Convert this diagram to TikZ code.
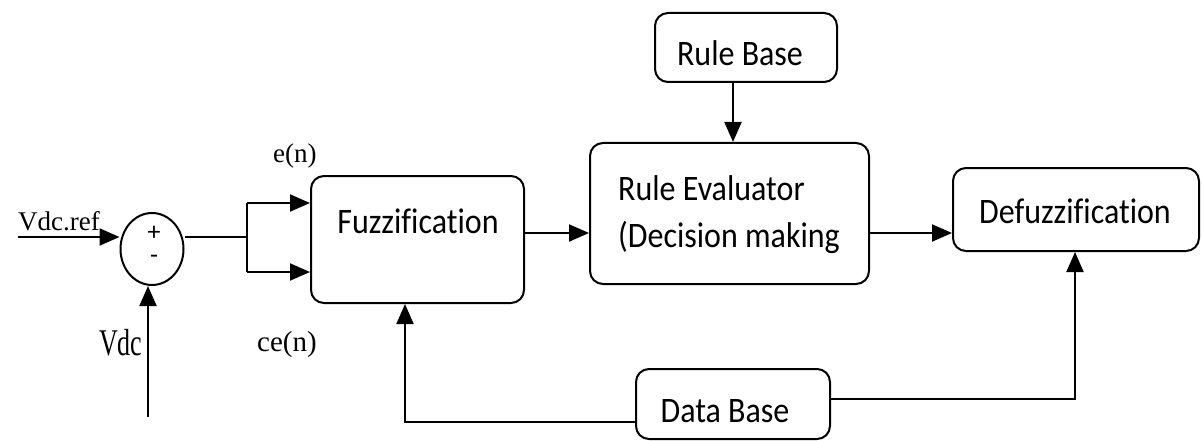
\documentclass[tikz,border=0pt]{standalone}
\usepackage{fontspec}
\setmainfont{Liberation Serif}
\newfontfamily\calib[Ligatures=NoCommon]{Carlito}
\usetikzlibrary{arrows.meta,shapes.geometric}

% block labels are set a little taller than the face's natural shape
\newcommand{\blocktext}[1]{\scalebox{1}[1.12]{#1}}

\tikzset{
  wire/.style={line width=2pt},
  arr/.style={wire,-{Triangle[length=20pt,width=17pt]}},
  block/.style={draw,line width=2pt,rounded corners=13pt,inner sep=0pt},
  blocklabel/.style={anchor=base,inner sep=0pt,font=\calib\fontsize{32}{36}\selectfont},
  signal/.style={anchor=base west,inner sep=0pt,font=\fontsize{27}{30}\selectfont},
  sign/.style={inner sep=0pt,align=center,font=\calib\fontsize{26}{23}\selectfont},
}

\begin{document}
\begin{tikzpicture}[x=1pt,y=-1pt]
\useasboundingbox (0,0) rectangle (1202,441);

% summing junction with its signs stacked inside
\node[draw,ellipse,line width=2pt,minimum width=63pt,minimum height=72pt,inner sep=0pt] (sum) at (152,249) {};
\node[sign] (signs) at (154,245) {+\\-};

% blocks
\node[block,minimum width=213pt,minimum height=127pt] (fuz) at (417.5,239.5) {};
\node[block,minimum width=279pt,minimum height=141pt] (rev) at (729.5,213.5) {};
\node[block,minimum width=182pt,minimum height=69pt] (rb) at (746,47.5) {};
\node[block,minimum width=246pt,minimum height=83pt] (def) at (1076,209.5) {};
\node[block,minimum width=194pt,minimum height=70pt] (db) at (733,404) {};

% block captions
\node[blocklabel] (fuzt) at (418,233) {\blocktext{Fuzzification}};
\node[blocklabel,anchor=base west] (revt1) at (618,200) {\blocktext{Rule Evaluator}};
\node[blocklabel,anchor=base west] (revt2) at (618,247) {\blocktext{(Decision making}};
\node[blocklabel] (rbt) at (740,66) {\blocktext{Rule Base}};
\node[blocklabel] (deft) at (1075,223) {\blocktext{Defuzzification}};
\node[blocklabel] (dbt) at (725,422) {\blocktext{Data Base}};

% signal names
\node[signal] (lref) at (18,230) {Vdc.ref};
\node[signal,font=\fontsize{26}{30}\selectfont] (lvdc) at (99,355) {\scalebox{1}[1.45]{Vdc}};
\node[signal] (len) at (273,163) {e(n)};
\node[signal,font=\fontsize{29}{32}\selectfont] (lcen) at (257,351) {ce(n)};

% routing points
\coordinate (refin) at (18,237);
\coordinate (vdcin) at (148,417);
\coordinate (split) at (247,237);
\coordinate (etop) at (247,203);
\coordinate (ebot) at (247,272);
\coordinate (fwd) at (0,233);
\coordinate (rbcol) at (733,0);
\coordinate (dbl) at (405,422);
\coordinate (dbr) at (1075,399);

% connectors
\draw[arr] (refin) -- (refin -| sum.west);
\draw[arr] (vdcin) -- (vdcin |- sum.south);
\draw[wire] (split -| sum.east) -- (split);
\draw[wire] (etop) -- (ebot);
\draw[arr] (etop) -- (etop -| fuz.west);
\draw[arr] (ebot) -- (ebot -| fuz.west);
\draw[arr] (fuz.east |- fwd) -- (rev.west |- fwd);
\draw[arr] (rev.east |- fwd) -- (def.west |- fwd);
\draw[arr] (rb.south -| rbcol) -- (rev.north -| rbcol);
\draw[arr] (db.west |- dbl) -- (dbl) -- (dbl |- fuz.south);
\draw[arr] (db.east |- dbr) -- (dbr) -- (dbr |- def.south);
\end{tikzpicture}
\end{document}
